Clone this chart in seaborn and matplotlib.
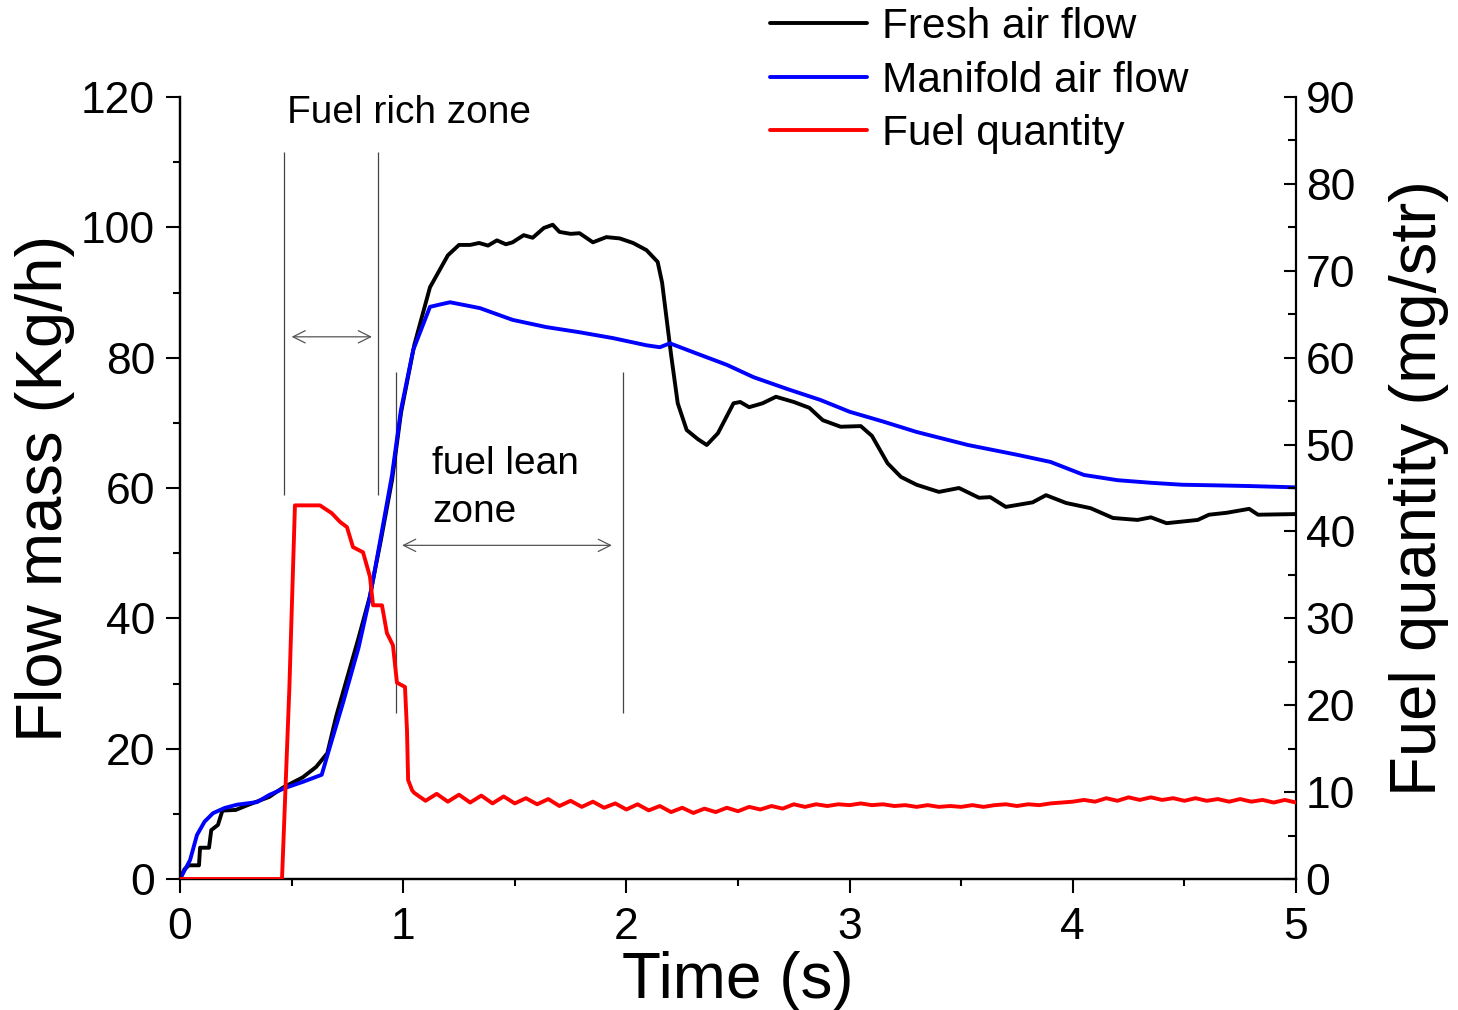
import numpy as np
import pandas as pd
import matplotlib
matplotlib.use("Agg")
import matplotlib.pyplot as plt
from matplotlib.ticker import MultipleLocator
from matplotlib.lines import Line2D
import seaborn as sns

# ---------------- data ----------------
t_fresh = [0, 0.02, 0.04, 0.085, 0.09, 0.13, 0.14, 0.17, 0.19, 0.25, 0.30, 0.40,
           0.46, 0.55, 0.61, 0.66, 0.70, 0.75, 0.80, 0.85, 0.90, 0.95, 0.99, 1.05,
           1.12, 1.20, 1.25, 1.30, 1.34, 1.38, 1.42, 1.46, 1.49, 1.54, 1.58, 1.63,
           1.67, 1.70, 1.75, 1.79, 1.85, 1.91, 1.97, 2.03, 2.09, 2.14, 2.16, 2.20,
           2.23, 2.27, 2.32, 2.36, 2.41, 2.48, 2.51, 2.55, 2.61, 2.67, 2.75, 2.82,
           2.88, 2.96, 3.05, 3.10, 3.17, 3.23, 3.30, 3.40, 3.49, 3.58, 3.63, 3.70,
           3.82, 3.88, 3.97, 4.08, 4.18, 4.29, 4.35, 4.42, 4.56, 4.61, 4.69, 4.79,
           4.83, 5.0]
fresh_air = [0, 1.5, 2.1, 2.1, 4.8, 4.8, 7.5, 8.3, 10.5, 10.6, 11.3, 12.6,
             14.0, 15.6, 17.2, 19.3, 25.0, 31.0, 37.0, 43.3, 52.0, 61.2, 71.5, 82.0,
             90.8, 95.7, 97.3, 97.3, 97.6, 97.2, 98.0, 97.4, 97.7, 98.8, 98.4, 99.9,
             100.4, 99.3, 99.0, 99.1, 97.7, 98.5, 98.3, 97.6, 96.5, 94.7, 91.5, 80.5,
             73.0, 68.9, 67.5, 66.6, 68.4, 73.0, 73.2, 72.4, 73.0, 74.0, 73.2, 72.3,
             70.4, 69.4, 69.5, 68.0, 63.8, 61.7, 60.5, 59.4, 60.0, 58.5, 58.6, 57.1,
             57.8, 58.9, 57.7, 56.9, 55.4, 55.1, 55.5, 54.6, 55.1, 55.9, 56.2, 56.8,
             55.9, 56.0]

t_manifold = [0, 0.045, 0.076, 0.11, 0.148, 0.2, 0.255, 0.345, 0.40, 0.47, 0.55,
              0.635, 0.67, 0.73, 0.80, 0.851, 0.90, 0.95, 0.99, 1.045, 1.12, 1.17,
              1.21, 1.27, 1.344, 1.49, 1.64, 1.79, 1.94, 2.09, 2.15, 2.195, 2.31,
              2.45, 2.57, 2.72, 2.87, 3.0, 3.15, 3.30, 3.53, 3.75, 3.90, 4.05, 4.20,
              4.35, 4.49, 4.65, 4.79, 5.0]
manifold_air = [0, 2.9, 6.75, 8.8, 10.1, 10.9, 11.4, 11.8, 12.9, 13.96, 14.9,
                16.0, 20.1, 27.0, 35.5, 43.3, 52.5, 62.0, 72.0, 81.2, 87.8, 88.2,
                88.5, 88.1, 87.6, 85.8, 84.7, 83.9, 83.0, 81.9, 81.6, 82.2, 80.7,
                78.9, 77.0, 75.2, 73.5, 71.7, 70.2, 68.6, 66.6, 65.1, 64.0, 62.0, 61.2,
                60.8, 60.5, 60.4, 60.3, 60.1]

t_fuel = [0, 0.457, 0.49, 0.515, 0.627, 0.68, 0.717, 0.748, 0.775, 0.82, 0.851,
          0.865, 0.905, 0.927, 0.954, 0.972, 1.008, 1.017, 1.022, 1.04,
          1.05, 1.10, 1.15, 1.20, 1.25, 1.30, 1.35, 1.40, 1.45, 1.50,
          1.55, 1.60, 1.65, 1.70, 1.75, 1.80, 1.85, 1.90, 1.95, 2.00,
          2.05, 2.10, 2.15, 2.20, 2.25, 2.30, 2.35, 2.40, 2.45, 2.50,
          2.55, 2.60, 2.65, 2.70, 2.75, 2.80, 2.85, 2.90, 2.95, 3.00,
          3.05, 3.10, 3.15, 3.20, 3.25, 3.30, 3.35, 3.40, 3.45, 3.50,
          3.55, 3.60, 3.65, 3.70, 3.75, 3.80, 3.85, 3.90, 3.95, 4.00,
          4.05, 4.10, 4.15, 4.20, 4.25, 4.30, 4.35, 4.40, 4.45, 4.50,
          4.55, 4.60, 4.65, 4.70, 4.75, 4.80, 4.85, 4.90, 4.95, 5.00]
fuel_qty = [0, 0, 22.0, 43.0, 43.0, 42.1, 41.1, 40.5, 38.2, 37.6, 34.8,
            31.5, 31.5, 28.3, 26.9, 22.6, 22.1, 17.1, 11.4, 10.2,
            9.9, 9.0, 9.8, 8.9, 9.7, 8.8, 9.6, 8.7, 9.5, 8.7,
            9.3, 8.6, 9.2, 8.4, 9.0, 8.3, 8.9, 8.2, 8.7, 8.0,
            8.6, 7.9, 8.4, 7.7, 8.2, 7.6, 8.1, 7.7, 8.2, 7.8,
            8.3, 8.0, 8.4, 8.1, 8.6, 8.3, 8.6, 8.4, 8.6, 8.5,
            8.7, 8.5, 8.6, 8.4, 8.5, 8.3, 8.5, 8.3, 8.4, 8.3,
            8.5, 8.3, 8.5, 8.6, 8.4, 8.6, 8.5, 8.7, 8.8, 8.9,
            9.1, 8.9, 9.3, 9.0, 9.4, 9.1, 9.4, 9.1, 9.3, 9.0,
            9.3, 9.0, 9.2, 8.9, 9.2, 8.9, 9.1, 8.8, 9.1, 8.8]

series_labels = ["Fresh air flow", "Manifold air flow", "Fuel quantity"]
series_colors = ["#000000", "#0000ff", "#ff0000"]

x_ticks = [0, 1, 2, 3, 4, 5]
left_ticks = [0, 20, 40, 60, 80, 100, 120]
right_ticks = [0, 10, 20, 30, 40, 50, 60, 70, 80, 90]

# annotation geometry (data units of left axis)
rich_lines_t = [0.466, 0.887]
rich_lines_y = (59.0, 111.6)
lean_lines_t = [0.968, 1.985]
lean_lines_y = (25.5, 77.8)
rich_arrow = (0.50, 0.86, 83.2)
lean_arrow = (0.995, 1.935, 51.2)

df_fresh = pd.DataFrame({"t": t_fresh, "v": fresh_air})
df_man = pd.DataFrame({"t": t_manifold, "v": manifold_air})
df_fuel = pd.DataFrame({"t": t_fuel, "v": fuel_qty})

# ---------------- style ----------------
sns.set_style("ticks")
plt.rcParams["font.family"] = ["Liberation Sans", "DejaVu Sans"]
for key in ("text.color", "axes.labelcolor", "xtick.color", "ytick.color",
            "axes.edgecolor"):
    plt.rcParams[key] = "black"

W, H = 1458, 1010
fig = plt.figure(figsize=(W / 100, H / 100), dpi=100)
ax = fig.add_axes([180 / W, 1 - 879 / H, (1296 - 180) / W, (879 - 97) / H])
ax2 = ax.twinx()

lw = 2.8
sns.lineplot(data=df_fresh, x="t", y="v", ax=ax, color=series_colors[0], lw=lw,
             sort=False, estimator=None, zorder=3)
sns.lineplot(data=df_man, x="t", y="v", ax=ax, color=series_colors[1], lw=lw,
             sort=False, estimator=None, zorder=4)
sns.lineplot(data=df_fuel, x="t", y="v", ax=ax2, color=series_colors[2], lw=lw,
             sort=False, estimator=None, zorder=3)

ax.set_xlim(0, 5)
ax.set_ylim(0, 120)
ax2.set_ylim(0, 90)

ax.set_xticks(x_ticks)
ax.set_yticks(left_ticks)
ax2.set_yticks(right_ticks)
ax.xaxis.set_minor_locator(MultipleLocator(0.5))
ax.yaxis.set_minor_locator(MultipleLocator(10))
ax2.yaxis.set_minor_locator(MultipleLocator(5))

for a in (ax, ax2):
    a.spines["top"].set_visible(False)
    for s in a.spines.values():
        s.set_linewidth(1.6)
        s.set_color("black")
ax.spines["right"].set_visible(False)

ax.tick_params(axis="both", which="major", direction="out", length=10, width=1.5,
               labelsize=32, colors="black")
ax.tick_params(axis="both", which="minor", direction="out", length=5, width=1.5,
               colors="black")
ax.tick_params(axis="y", which="major", pad=8)
ax.tick_params(axis="x", which="major", pad=10)
ax2.tick_params(axis="y", which="major", direction="in", length=9, width=1.5,
                labelsize=32, pad=7, colors="black")
ax2.tick_params(axis="y", which="minor", direction="in", length=6, width=1.5,
                colors="black")

ax.set_xlabel("Time (s)", fontsize=46, labelpad=2)
ax.set_ylabel("Flow mass (Kg/h)", fontsize=47, labelpad=4)
ax2.set_ylabel("Fuel quantity (mg/str)", fontsize=47, labelpad=24)

# annotation lines / arrows
ann_color = "#444444"
ax.vlines(rich_lines_t, *rich_lines_y, color=ann_color, lw=0.9, zorder=2)
ax.vlines(lean_lines_t, *lean_lines_y, color=ann_color, lw=0.9, zorder=2)
ax.annotate("", xy=(rich_arrow[0], rich_arrow[2]), xytext=(rich_arrow[1], rich_arrow[2]),
            arrowprops=dict(arrowstyle="<->", color="#555555", lw=0.9,
                            mutation_scale=22, shrinkA=0, shrinkB=0))
ax.annotate("", xy=(lean_arrow[0], lean_arrow[2]), xytext=(lean_arrow[1], lean_arrow[2]),
            arrowprops=dict(arrowstyle="<->", color="#555555", lw=0.9,
                            mutation_scale=22, shrinkA=0, shrinkB=0))

ax.text(0.48, 117.5, "Fuel rich zone", fontsize=28, ha="left", va="center")
ax.text(1.13, 60.0, "fuel lean\nzone", fontsize=28, ha="left", va="center",
        linespacing=1.45)

handles = [Line2D([], [], color=c, lw=lw) for c in series_colors]
fig.legend(handles, series_labels, loc="upper left",
           bbox_to_anchor=(770 / W, 1 - 7 / H), frameon=False, fontsize=30.5,
           handlelength=2.3, handletextpad=0.35, labelspacing=0.32,
           borderpad=0, borderaxespad=0)

fig.savefig("out.png", dpi=100)
